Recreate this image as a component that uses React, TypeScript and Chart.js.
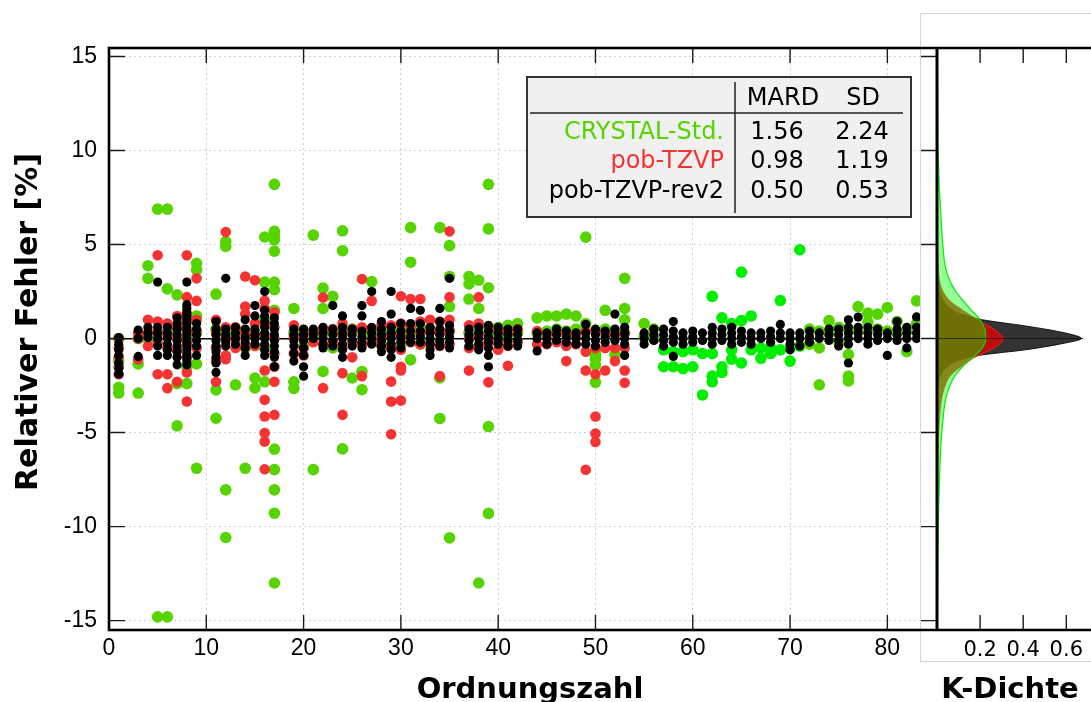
import React, { useEffect, useRef } from 'react';
import { Chart, registerables } from 'chart.js';

Chart.register(...registerables);

// ---------- axes ----------
const xTicks = [0, 10, 20, 30, 40, 50, 60, 70, 80];
const yTicks = [-15, -10, -5, 0, 5, 10, 15];
const densTicks = [0.2, 0.4, 0.6];
const xRange = [0, 85];
const yRange = [-15.5, 15.45];
const densRange = [0, 0.68];

// ---------- table ----------
const seriesNames = ['CRYSTAL-Std.', 'pob-TZVP', 'pob-TZVP-rev2'];
const mardValues = ['1.56', '0.98', '0.50'];
const sdValues = ['2.24', '1.19', '0.53'];
const tableHeader = ['MARD', 'SD'];
const lanthanides = [57, 71];

// ---------- scatter data: [Ordnungszahl, relative errors in %] ----------
const crystalStd: [number, number[]][] = [
  [1, [0.0, -1.2, -2.6, -2.9]],
  [3, [0.0, -1.35, -2.9]],
  [4, [3.87, 3.2, 0.0]],
  [5, [6.88, 0.3, -14.8]],
  [6, [6.88, 2.64, 0.3, -14.8]],
  [7, [2.32, 0.6, -2.4, -4.64]],
  [8, [1.0, 0.0, -1.5, -2.4]],
  [9, [4.0, 3.65, 1.2, 0.3, -1.35, -6.9]],
  [11, [2.36, 0.5, -2.73, -4.24]],
  [12, [5.15, 4.9, 0.3, -8.05, -10.58]],
  [13, [0.3, -2.46]],
  [14, [0.4, -0.5, -6.9]],
  [15, [0.3, -2.1, -2.63]],
  [16, [5.4, 3.0, 1.0, -0.5, -2.3]],
  [17, [8.2, 5.7, 5.5, 5.25, 4.65, 3.0, 2.6, 1.5, -5.88, -6.97, -8.05, -9.29, -13.0]],
  [19, [1.6, 0.3, -2.3, -2.65]],
  [20, [0.4, -0.4]],
  [21, [5.5, 0.2, -6.97]],
  [22, [2.68, 1.6, 0.3, -1.75]],
  [23, [2.24, 0.4, -0.5]],
  [24, [5.73, 4.67, 0.3, -5.87]],
  [25, [0.5, -2.1]],
  [26, [0.4, -1.75, -2.72]],
  [27, [3.03, 0.3]],
  [28, [0.4, -0.3]],
  [29, [0.3, -0.4]],
  [30, [0.5, -0.3]],
  [31, [5.9, 4.06, 0.3, -1.13]],
  [32, [0.6, -0.3]],
  [33, [0.5, -0.2]],
  [34, [5.9, 0.4, -2.1, -4.25]],
  [35, [4.94, 3.3, 1.7, 0.4, -10.6]],
  [37, [3.3, 2.9, 2.1, 0.3]],
  [38, [3.1, 1.6, 0.3, -13.0]],
  [39, [8.2, 5.83, 2.7, 0.3, -4.68, -9.3]],
  [40, [0.6, 0.2]],
  [41, [0.7, 0.2]],
  [42, [0.8, 0.3]],
  [44, [1.1, 0.3]],
  [45, [1.2, 0.4]],
  [46, [1.2, 0.5]],
  [47, [1.3, 0.4]],
  [48, [1.2, 0.5]],
  [49, [5.39, 0.8]],
  [50, [-0.7, -0.9, -1.1, -1.4, -2.33]],
  [51, [1.5, 0.5]],
  [52, [0.4, -0.85]],
  [53, [3.2, 1.6, 1.0, 0.3]],
  [55, [0.8, 0.1]],
  [56, [0.5, 0.0]],
  [57, [-0.6, -1.5]],
  [58, [-0.7, -1.5]],
  [59, [-0.7, -1.6]],
  [60, [-0.6, -1.5]],
  [61, [-0.8, -3.0]],
  [62, [2.24, -0.8, -2.0, -2.3]],
  [63, [1.1, -1.5, -1.8]],
  [64, [0.8, -0.6, -1.1]],
  [65, [3.53, 0.95, -1.3]],
  [66, [1.2, -0.6]],
  [67, [-0.5, -1.05]],
  [68, [-0.5, -0.8]],
  [69, [2.02, -0.6]],
  [70, [-0.5, -1.2]],
  [71, [4.72, -0.4]],
  [72, [0.5, -0.3]],
  [73, [0.4, -0.5, -2.46]],
  [74, [0.95, 0.3]],
  [75, [0.6, -0.2]],
  [76, [0.5, -0.85, -2.0, -2.25]],
  [77, [1.7, 0.4]],
  [78, [1.35, 0.88]],
  [79, [1.3, 0.5]],
  [80, [1.65, 0.4]],
  [81, [0.9, 0.3]],
  [82, [0.4, -0.7]],
  [83, [2.0, 0.8]],
];

const pobTZVP: [number, number[]][] = [
  [1, [0.0, -0.5, -1.0, -1.5, -1.9]],
  [3, [0.3, 0.0, -1.1]],
  [4, [1.0, 0.3, -0.4]],
  [5, [4.43, 0.9, 0.4, -0.2, -1.9]],
  [6, [0.8, 0.2, -0.5, -1.9, -2.64]],
  [7, [1.2, 0.6, 0.0, -0.6, -2.3]],
  [8, [4.43, 2.2, 1.3, 0.9, 0.4, -0.3, -1.0, -1.8, -3.35]],
  [9, [3.2, 2.0, 1.0, 0.4, -0.5]],
  [11, [1.0, 0.3, -0.5, -1.2, -2.3]],
  [12, [5.66, 0.6, 0.0, -0.9, -1.1]],
  [13, [0.6, 0.0, -0.5]],
  [14, [3.3, 1.7, 1.3, 0.3, -0.4]],
  [15, [3.1, 0.8, 0.2, -0.4]],
  [16, [2.0, 1.6, 0.8, 0.2, -1.7, -3.26, -4.15, -5.03, -5.48, -6.95]],
  [17, [1.4, 0.6, 0.0, -0.8, -1.5, -2.3, -4.06]],
  [19, [0.7, 0.1, -0.8]],
  [20, [0.2, -0.5, -0.9]],
  [21, [0.3, -0.2]],
  [22, [2.18, 0.5, -0.3, -2.64]],
  [23, [0.5, -0.2]],
  [24, [0.8, 0.2, -0.5, -1.84, -4.06]],
  [25, [0.5, -0.2, -1.0]],
  [26, [3.16, 0.6, -0.3, -2.0]],
  [27, [2.0, 0.5, -0.2]],
  [28, [0.7, 0.1, -0.4]],
  [29, [0.7, 0.2, -0.5, -2.29, -3.35, -5.09]],
  [30, [2.25, 0.8, 0.2, -0.6, -1.5, -1.7, -3.3]],
  [31, [2.1, 0.6, -0.2]],
  [32, [2.1, 0.9, 0.3, -0.3]],
  [33, [1.0, 0.4, -0.3]],
  [34, [0.9, 0.3, -0.4, -2.0]],
  [35, [5.7, 2.2, 1.0, 0.4, -0.3]],
  [37, [0.7, 0.0, -0.5, -1.7]],
  [38, [2.2, 0.8, 0.2, -0.4]],
  [39, [0.6, -0.2, -2.33]],
  [40, [0.4, -0.2, -0.6]],
  [41, [0.3, -0.4, -1.45]],
  [42, [0.5, -0.2]],
  [44, [0.4, -0.3]],
  [45, [0.2, -0.3]],
  [46, [0.3, -0.2]],
  [47, [0.3, -0.4, -1.2]],
  [48, [0.2, -0.3]],
  [49, [0.4, -0.7, -1.7, -6.98]],
  [50, [0.4, -0.5, -1.9, -4.15, -5.05, -5.5]],
  [51, [0.3, -0.5, -1.7]],
  [52, [0.2, -0.5, -1.2]],
  [53, [0.3, -0.5, -1.7, -2.35]],
];

const pobTZVPrev2: [number, number[]][] = [
  [1, [0.05, -0.3, -0.6, -0.9, -1.3, -1.6, -1.9]],
  [3, [0.45, 0.0, -0.95]],
  [4, [0.6, 0.3, 0.05]],
  [5, [3.0, 0.6, 0.3, 0.0, -0.4, -0.9]],
  [6, [0.6, 0.3, 0.0, -0.3, -0.6, -0.9]],
  [7, [1.1, 0.8, 0.5, 0.2, -0.1, -0.4, -0.7, -1.0, -1.4]],
  [8, [3.0, 1.8, 1.6, 1.4, 1.2, 1.0, 0.8, 0.6, 0.4, 0.2, 0.0, -0.2, -0.4, -0.6, -0.8, -1.0, -1.2, -1.4]],
  [9, [0.8, 0.5, 0.2, -0.1, -0.4, -0.9]],
  [11, [0.9, 0.5, 0.2, -0.1, -0.4, -0.7, -1.0, -1.3, -1.8]],
  [12, [3.2, 0.5, 0.2, 0.0, -0.2, -0.4]],
  [13, [0.6, 0.3, 0.0, -0.3]],
  [14, [1.0, 0.5, 0.1, -0.2, -0.5, -0.9]],
  [15, [1.75, 1.2, 0.5, 0.2, 0.0, -0.3]],
  [16, [2.5, 1.5, 1.2, 0.9, 0.6, 0.3, 0.0, -0.3, -0.6, -0.9]],
  [17, [1.1, 0.8, 0.5, 0.2, -0.1, -0.4, -0.7, -1.0, -1.5]],
  [19, [0.5, 0.2, -0.1, -0.4, -0.8, -1.2]],
  [20, [0.5, 0.2, -0.1, -0.5, -0.9, -1.5, -2.0]],
  [21, [0.5, 0.25, 0.0]],
  [22, [0.6, 0.3, 0.0, -0.3, -0.5]],
  [23, [1.75, 0.5, 0.2, -0.1, -0.4]],
  [24, [1.2, 0.6, 0.3, 0.0, -0.3, -0.6, -1.0]],
  [25, [0.5, 0.2, -0.1, -0.4]],
  [26, [1.75, 1.2, 0.4, 0.1, -0.2, -0.5]],
  [27, [2.5, 0.6, 0.3, 0.0, -0.3]],
  [28, [0.9, 0.5, 0.2, -0.1, -0.4, -0.7]],
  [29, [2.5, 1.3, 0.6, 0.3, 0.0, -0.3, -0.6, -1.0]],
  [30, [0.8, 0.4, 0.1, -0.2, -0.5]],
  [31, [1.6, 0.8, 0.4, 0.1, -0.2]],
  [32, [1.5, 0.8, 0.4, 0.1, -0.2]],
  [33, [0.6, 0.3, 0.0, -0.3, -0.6, -0.9]],
  [34, [1.6, 0.9, 0.5, 0.2, -0.1, -0.4]],
  [35, [3.2, 0.7, 0.4, 0.1, -0.2, -0.5]],
  [37, [0.5, 0.2, -0.1, -0.4]],
  [38, [0.6, 0.3, 0.0, -0.3, -0.6]],
  [39, [0.7, 0.4, 0.1, -0.2, -0.5, -0.9, -1.5]],
  [40, [0.6, 0.3, 0.0, -0.3]],
  [41, [0.5, 0.2, -0.1, -0.4]],
  [42, [0.5, 0.2, -0.1, -0.4]],
  [44, [0.3, 0.0, -0.66]],
  [45, [0.3, 0.0, -0.3]],
  [46, [0.5, 0.2, -0.1]],
  [47, [0.4, 0.1, -0.2]],
  [48, [0.3, 0.0, -0.3]],
  [49, [0.75, 0.3, 0.0, -0.3]],
  [50, [0.5, 0.2, -0.1, -0.4]],
  [51, [0.4, 0.1, -0.2]],
  [52, [1.3, 0.5, 0.2, -0.1]],
  [53, [0.6, 0.3, 0.0, -0.3, -0.9]],
  [55, [0.3, 0.0, -0.3]],
  [56, [0.5, 0.2, -0.1]],
  [57, [0.5, 0.2, -0.1, -0.4]],
  [58, [0.9, 0.4, 0.1, -0.2, -0.95]],
  [59, [0.3, 0.0, -0.3]],
  [60, [0.4, 0.1, -0.2]],
  [61, [0.3, -0.1]],
  [62, [0.6, 0.3, 0.0, -0.3]],
  [63, [0.5, 0.2, -0.1]],
  [64, [0.6, 0.3, 0.0, -0.3]],
  [65, [0.4, 0.1, -0.2]],
  [66, [0.3, 0.0, -0.3]],
  [67, [0.3, 0.0]],
  [68, [0.4, 0.1, -0.2]],
  [69, [0.75, 0.3, 0.0]],
  [70, [0.3, 0.0, -0.3, -0.6]],
  [71, [0.3, 0.0, -0.4]],
  [72, [0.4, 0.1, -0.2]],
  [73, [0.3, 0.0]],
  [74, [0.5, 0.2, -0.1]],
  [75, [0.5, 0.2, -0.1, -0.4]],
  [76, [1.0, 0.6, 0.3, 0.0, -0.3, -1.3]],
  [77, [1.14, 0.6, 0.3, 0.0]],
  [78, [0.6, 0.3, 0.0, -0.3]],
  [79, [0.5, 0.2, -0.1]],
  [80, [0.3, 0.0, -0.9]],
  [81, [0.9, 0.5, 0.2, -0.1]],
  [82, [0.6, 0.3, 0.0, -0.5]],
  [83, [1.15, 0.6, 0.3, 0.0]],
];

// ---------- kernel densities: [relative error, density] ----------
const kdeCrystal: [number, number][] = [
  [-15.4, 0.002], [-13, 0.003], [-11, 0.005], [-9, 0.008], [-7, 0.013], [-5.5, 0.019],
  [-4.5, 0.026], [-3.5, 0.036], [-3, 0.045], [-2.5, 0.06], [-2, 0.082], [-1.5, 0.118],
  [-1, 0.168], [-0.5, 0.21], [0, 0.227], [0.5, 0.222], [1, 0.2], [1.5, 0.16], [2, 0.122],
  [2.5, 0.088], [3, 0.062], [3.5, 0.046], [4, 0.036], [5, 0.027], [6, 0.021], [7, 0.016],
  [8, 0.011], [9, 0.008], [10, 0.005], [12, 0.003], [15.4, 0.002],
];
const kdePob: [number, number][] = [
  [-15.4, 0], [-10, 0.001], [-7, 0.004], [-5, 0.008], [-4, 0.013], [-3, 0.025], [-2.5, 0.038],
  [-2, 0.06], [-1.5, 0.11], [-1, 0.175], [-0.5, 0.265], [0, 0.306], [0.4, 0.275], [0.8, 0.22],
  [1.2, 0.16], [1.5, 0.12], [2, 0.06], [2.5, 0.028], [3, 0.013], [4, 0.005], [6, 0.002], [15.4, 0],
];
const kdeRev2: [number, number][] = [
  [-15.4, 0], [-4, 0], [-3, 0.002], [-2.5, 0.005], [-2, 0.014], [-1.7, 0.03], [-1.4, 0.06],
  [-1.2, 0.09], [-1, 0.15], [-0.87, 0.21], [-0.6, 0.41], [-0.25, 0.59], [0, 0.67], [0.32, 0.585],
  [0.67, 0.41], [1.0, 0.21], [1.2, 0.14], [1.4, 0.09], [1.7, 0.05], [2, 0.03], [2.5, 0.012],
  [3, 0.005], [4, 0.001], [15.4, 0],
];

// ---------- styles ----------
const GREEN = '#55d400';
const GREEN_LN = '#00ee00';
const RED = '#f53333';
const BLACK = '#000000';
const SANS = "'Liberation Sans', Arial, sans-serif";
const DEJAVU = "'DejaVu Sans', sans-serif";

function toPoints(rows: [number, number[]][]) {
  const pts: { x: number; y: number }[] = [];
  rows.forEach(([z, errs]) => errs.forEach((e) => pts.push({ x: z, y: e })));
  return pts;
}

function toCurve(rows: [number, number][]) {
  return rows.map(([e, d]) => ({ x: d, y: e }));
}

const mainDecor = {
  id: 'mainDecor',
  afterDraw(chart: any) {
    const { ctx, chartArea: a, scales } = chart;
    const xs = scales.x;
    const ys = scales.y;
    ctx.save();
    // inward ticks
    ctx.strokeStyle = '#1a1a1a';
    ctx.lineWidth = 1.4;
    ctx.beginPath();
    xTicks.forEach((v) => {
      if (v <= xs.min) return;
      const px = xs.getPixelForValue(v);
      ctx.moveTo(px, a.bottom);
      ctx.lineTo(px, a.bottom - 15);
      ctx.moveTo(px, a.top);
      ctx.lineTo(px, a.top + 15);
    });
    yTicks.forEach((v) => {
      const py = ys.getPixelForValue(v);
      ctx.moveTo(a.left, py);
      ctx.lineTo(a.left + 16, py);
      ctx.moveTo(a.right, py);
      ctx.lineTo(a.right - 16, py);
    });
    ctx.stroke();
    // frame
    ctx.lineWidth = 2.6;
    ctx.strokeStyle = '#000';
    ctx.strokeRect(a.left, a.top, a.right - a.left, a.bottom - a.top);

    // statistics table
    const bx = 527, by = 77, bw = 384, bh = 140;
    ctx.fillStyle = '#f0f0f0';
    ctx.fillRect(bx, by, bw, bh);
    ctx.lineWidth = 2;
    ctx.strokeStyle = '#333';
    ctx.strokeRect(bx, by, bw, bh);
    ctx.lineWidth = 1.5;
    ctx.strokeStyle = '#222';
    ctx.beginPath();
    ctx.moveTo(735, 82);
    ctx.lineTo(735, 213);
    ctx.moveTo(530, 113);
    ctx.lineTo(903, 113);
    ctx.stroke();
    ctx.font = `24px ${DEJAVU}`;
    ctx.textBaseline = 'middle';
    ctx.fillStyle = '#000';
    ctx.textAlign = 'center';
    ctx.fillText(tableHeader[0], 783, 99);
    ctx.fillText(tableHeader[1], 863, 99);
    const rowY = [133, 162, 192];
    const rowColors = [GREEN, RED, '#000'];
    seriesNames.forEach((name, i) => {
      ctx.textAlign = 'right';
      ctx.fillStyle = rowColors[i];
      ctx.fillText(name, 724, rowY[i]);
      ctx.textAlign = 'center';
      ctx.fillStyle = '#000';
      ctx.fillText(mardValues[i], 777, rowY[i]);
      ctx.fillText(sdValues[i], 862, rowY[i]);
    });

    // axis titles
    ctx.fillStyle = '#000';
    ctx.textAlign = 'center';
    ctx.textBaseline = 'alphabetic';
    ctx.font = `bold 29px ${DEJAVU}`;
    ctx.fillText('Ordnungszahl', 530, 698);
    ctx.save();
    ctx.translate(37, 322);
    ctx.rotate(-Math.PI / 2);
    ctx.font = `bold 30px ${DEJAVU}`;
    ctx.fillText('Relativer Fehler [%]', 0, 0);
    ctx.restore();
    ctx.restore();
  },
};

const densDecor = {
  id: 'densDecor',
  beforeDraw(chart: any) {
    const { ctx, width, height } = chart;
    ctx.save();
    ctx.fillStyle = '#fff';
    ctx.fillRect(0, 0, width, height);
    ctx.strokeStyle = '#d4d4d4';
    ctx.lineWidth = 1;
    ctx.beginPath();
    ctx.moveTo(0.5, 662);
    ctx.lineTo(0.5, 13.5);
    ctx.lineTo(width, 13.5);
    ctx.moveTo(0.5, 661.5);
    ctx.lineTo(width, 661.5);
    ctx.stroke();
    ctx.restore();
  },
  afterDatasetsDraw(chart: any) {
    const { ctx, chartArea: a, scales } = chart;
    const py = scales.y.getPixelForValue(0);
    ctx.save();
    ctx.strokeStyle = 'rgba(0,0,0,0.6)';
    ctx.lineWidth = 1;
    ctx.beginPath();
    ctx.moveTo(a.left, py);
    ctx.lineTo(a.right, py);
    ctx.stroke();
    ctx.restore();
  },
  afterDraw(chart: any) {
    const { ctx, chartArea: a, scales, width } = chart;
    ctx.save();
    ctx.strokeStyle = '#1a1a1a';
    ctx.lineWidth = 1.4;
    ctx.beginPath();
    densTicks.forEach((v) => {
      const px = scales.x.getPixelForValue(v);
      ctx.moveTo(px, a.bottom);
      ctx.lineTo(px, a.bottom - 15);
      ctx.moveTo(px, a.top);
      ctx.lineTo(px, a.top + 15);
    });
    yTicks.forEach((v) => {
      const py = scales.y.getPixelForValue(v);
      ctx.moveTo(1, py);
      ctx.lineTo(a.left, py);
    });
    ctx.stroke();
    ctx.strokeStyle = '#000';
    ctx.lineWidth = 2.6;
    ctx.beginPath();
    ctx.moveTo(0, a.top);
    ctx.lineTo(width, a.top);
    ctx.moveTo(0, a.bottom);
    ctx.lineTo(width, a.bottom);
    ctx.stroke();
    ctx.lineWidth = 3;
    ctx.beginPath();
    ctx.moveTo(a.left, a.top);
    ctx.lineTo(a.left, a.bottom);
    ctx.stroke();
    ctx.fillStyle = '#000';
    ctx.font = `bold 29px ${DEJAVU}`;
    ctx.textAlign = 'center';
    ctx.textBaseline = 'alphabetic';
    ctx.fillText('K-Dichte', 90, 698);
    ctx.restore();
  },
};

export default function App() {
  const mainRef = useRef<HTMLCanvasElement>(null);
  const densRef = useRef<HTMLCanvasElement>(null);

  useEffect(() => {
    const gridColor = (c: any) => (c.tick && c.tick.value === 0 ? '#000' : '#cfcfcf');
    const gridWidth = (c: any) => (c.tick && c.tick.value === 0 ? 1.6 : 1);
    const gridDash = (c: any) => (c.tick && c.tick.value === 0 ? [] : [2, 3]);

    const main = new Chart(mainRef.current as HTMLCanvasElement, {
      type: 'scatter',
      data: {
        datasets: [
          {
            label: seriesNames[2],
            data: toPoints(pobTZVPrev2),
            backgroundColor: BLACK,
            pointRadius: 4.6,
            borderWidth: 0,
            order: 0,
          },
          {
            label: seriesNames[1],
            data: toPoints(pobTZVP),
            backgroundColor: RED,
            pointRadius: 5.3,
            borderWidth: 0,
            order: 1,
          },
          {
            label: seriesNames[0],
            data: toPoints(crystalStd),
            backgroundColor: (c: any) => {
              const p = c.raw;
              return p && p.x >= lanthanides[0] && p.x <= lanthanides[1] ? GREEN_LN : GREEN;
            },
            pointRadius: 5.8,
            borderWidth: 0,
            order: 2,
          },
        ],
      },
      options: {
        animation: false,
        responsive: false,
        devicePixelRatio: 1,
        events: [],
        layout: { padding: { left: 0, top: 48, right: 1091 - 936, bottom: 0 } },
        plugins: { legend: { display: false }, tooltip: { enabled: false } },
        scales: {
          x: {
            type: 'linear',
            min: xRange[0],
            max: xRange[1],
            afterBuildTicks: (s: any) => {
              s.ticks = xTicks.map((v) => ({ value: v }));
            },
            afterFit: (s: any) => {
              s.height = 72;
            },
            ticks: {
              font: { family: SANS, size: 23 },
              color: '#000',
              padding: 5,
              maxRotation: 0,
              autoSkip: false,
              callback: (v: any) => String(v),
            },
            grid: { color: gridColor, lineWidth: 1, drawTicks: false },
            border: { display: false, dash: [2, 3] },
          },
          y: {
            type: 'linear',
            min: yRange[0],
            max: yRange[1],
            afterBuildTicks: (s: any) => {
              s.ticks = yTicks.map((v) => ({ value: v }));
            },
            afterFit: (s: any) => {
              s.width = 109;
            },
            ticks: {
              font: { family: SANS, size: 23 },
              color: '#000',
              padding: 12,
              autoSkip: false,
              callback: (v: any) => String(v),
            },
            grid: { color: gridColor, lineWidth: gridWidth, drawTicks: false },
            border: { display: false, dash: gridDash },
          },
        },
      },
      plugins: [mainDecor],
    } as any);

    const dens = new Chart(densRef.current as HTMLCanvasElement, {
      type: 'line',
      data: {
        datasets: [
          {
            label: seriesNames[0],
            data: toCurve(kdeCrystal),
            backgroundColor: 'rgba(0,255,0,0.42)',
            borderColor: 'rgba(0,230,0,0.95)',
            borderWidth: 1.2,
            fill: 'origin',
            pointRadius: 0,
            cubicInterpolationMode: 'monotone',
            order: 0,
          },
          {
            label: seriesNames[1],
            data: toCurve(kdePob),
            backgroundColor: 'rgba(225,0,0,0.8)',
            borderColor: 'rgba(255,40,40,0.9)',
            borderWidth: 1,
            fill: 'origin',
            pointRadius: 0,
            cubicInterpolationMode: 'monotone',
            order: 1,
          },
          {
            label: seriesNames[2],
            data: toCurve(kdeRev2),
            backgroundColor: 'rgba(0,0,0,0.8)',
            borderColor: 'rgba(0,0,0,0.85)',
            borderWidth: 1,
            fill: 'origin',
            pointRadius: 0,
            cubicInterpolationMode: 'monotone',
            order: 2,
          },
        ],
      },
      options: {
        indexAxis: 'y',
        animation: false,
        responsive: false,
        devicePixelRatio: 1,
        events: [],
        layout: { padding: { left: 0, top: 48, right: 0, bottom: 0 } },
        plugins: { legend: { display: false }, tooltip: { enabled: false } },
        scales: {
          x: {
            type: 'linear',
            position: 'bottom',
            min: densRange[0],
            max: densRange[1],
            afterBuildTicks: (s: any) => {
              s.ticks = densTicks.map((v) => ({ value: v }));
            },
            afterFit: (s: any) => {
              s.height = 72;
            },
            ticks: {
              font: { family: DEJAVU, size: 21 },
              color: '#000',
              padding: 8,
              maxRotation: 0,
              autoSkip: false,
              callback: (v: any) => Number(v).toFixed(1),
            },
            grid: { display: false, drawTicks: false },
            border: { display: false },
          },
          y: {
            type: 'linear',
            position: 'left',
            min: yRange[0],
            max: yRange[1],
            afterFit: (s: any) => {
              s.width = 17;
            },
            ticks: { display: false },
            grid: { display: false, drawTicks: false },
            border: { display: false },
          },
        },
      },
      plugins: [densDecor],
    } as any);

    return () => {
      main.destroy();
      dens.destroy();
    };
  }, []);

  return (
    <div
      style={{
        position: 'fixed',
        left: 0,
        top: 0,
        width: 1091,
        height: 702,
        overflow: 'hidden',
        background: '#fff',
      }}
    >
      <canvas
        ref={mainRef}
        width={1091}
        height={702}
        style={{ position: 'absolute', left: 0, top: 0, width: 1091, height: 702 }}
      />
      <canvas
        ref={densRef}
        width={171}
        height={702}
        style={{ position: 'absolute', left: 920, top: 0, width: 171, height: 702 }}
      />
    </div>
  );
}
